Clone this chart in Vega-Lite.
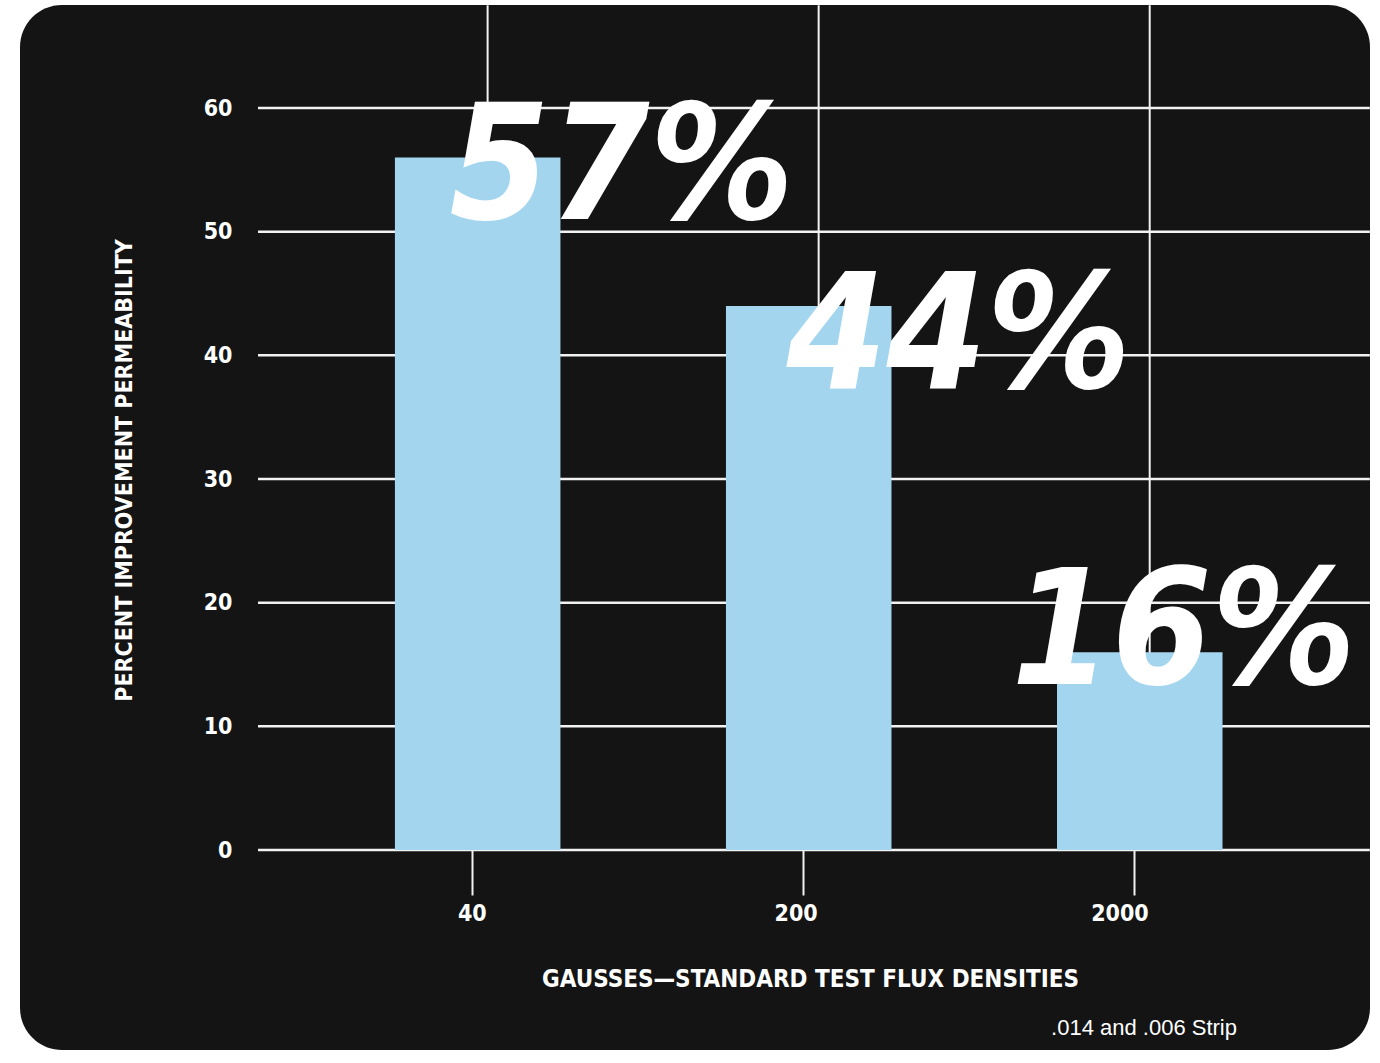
{
  "$schema": "https://vega.github.io/schema/vega-lite/v6.json",
  "width": 1350,
  "height": 1045,
  "autosize": {"type": "none"},
  "padding": {"left": 20, "top": 5, "right": 10, "bottom": 13},
  "background": "white",
  "config": {
    "view": {"fill": "#141414", "stroke": null, "cornerRadius": 42},
    "font": "DejaVu Sans Condensed, DejaVu Sans, sans-serif"
  },
  "title": {
    "text": ".014 and .006 Strip",
    "orient": "bottom",
    "anchor": "end",
    "frame": "group",
    "offset": -32,
    "dx": -133,
    "font": "Liberation Sans, Arial, sans-serif",
    "fontSize": 22,
    "fontWeight": "normal",
    "color": "white"
  },
  "datasets": {
    "bars": [
      {"gauss": "40", "improvement": 56, "label": "57%"},
      {"gauss": "200", "improvement": 44, "label": "44%"},
      {"gauss": "2000", "improvement": 16, "label": "16%"}
    ],
    "ticks": [
      {"pct": 0}, {"pct": 10}, {"pct": 20}, {"pct": 30}, {"pct": 40}, {"pct": 50}, {"pct": 60}
    ]
  },
  "layer": [
    {
      "data": {"name": "ticks"},
      "mark": {"type": "rule", "color": "#f2f2f2", "strokeWidth": 2.5},
      "encoding": {
        "y": {"field": "pct", "type": "quantitative"},
        "x": {"datum": "40", "bandPosition": -0.827},
        "x2": {"datum": "2000", "bandPosition": 1.89}
      }
    },
    {
      "data": {"name": "bars"},
      "mark": {"type": "rule", "color": "#f2f2f2", "strokeWidth": 2},
      "encoding": {
        "x": {"field": "gauss", "type": "nominal", "bandPosition": 0.56},
        "y": {"datum": 0},
        "y2": {"datum": 68.3}
      }
    },
    {
      "data": {"name": "bars"},
      "mark": {"type": "bar", "color": "#a3d6ee"},
      "encoding": {
        "x": {
          "field": "gauss",
          "type": "nominal",
          "sort": ["40", "200", "2000"],
          "scale": {"domain": ["40", "200", "2000"], "paddingInner": 0.5, "paddingOuter": 0.789, "align": 0.7177},
          "axis": {
            "orient": "bottom",
            "offset": -200,
            "bandPosition": 0.47,
            "domain": false,
            "grid": false,
            "ticks": true,
            "tickSize": 45,
            "tickWidth": 2,
            "tickColor": "#f2f2f2",
            "labelAngle": 0,
            "labelPadding": 18,
            "labelOffset": 9,
            "labelFontSize": 23,
            "labelFontWeight": "bold",
            "labelColor": "white",
            "title": "GAUSSES—STANDARD TEST FLUX DENSITIES",
            "titleX": 790,
            "titleY": 117,
            "titleAlign": "center",
            "titleBaseline": "top",
            "titleFontSize": 24,
            "titleFontWeight": "bold",
            "titleColor": "white"
          }
        },
        "y": {
          "field": "improvement",
          "type": "quantitative",
          "scale": {"domain": [-16.17, 68.33], "nice": false, "zero": false},
          "axis": {
            "orient": "left",
            "offset": -220,
            "values": [0, 10, 20, 30, 40, 50, 60],
            "domain": false,
            "grid": false,
            "ticks": false,
            "labelPadding": 8,
            "labelFontSize": 23,
            "labelFontWeight": "bold",
            "labelColor": "white",
            "title": "PERCENT IMPROVEMENT PERMEABILITY",
            "titleX": -116,
            "titleY": 465,
            "titleAngle": -90,
            "titleAlign": "center",
            "titleBaseline": "middle",
            "titleFontSize": 23,
            "titleFontWeight": "bold",
            "titleColor": "white"
          }
        },
        "y2": {"datum": 0}
      }
    },
    {
      "data": {"name": "bars"},
      "transform": [{"filter": "datum.gauss === '40'"}],
      "mark": {"type": "text", "color": "white", "fontSize": 160, "fontWeight": "bold", "fontStyle": "italic", "align": "center", "baseline": "alphabetic", "dx": 144, "dy": 62},
      "encoding": {
        "x": {"field": "gauss", "type": "nominal"},
        "y": {"field": "improvement", "type": "quantitative"},
        "text": {"field": "label"}
      }
    },
    {
      "data": {"name": "bars"},
      "transform": [{"filter": "datum.gauss === '200'"}],
      "mark": {"type": "text", "color": "white", "fontSize": 160, "fontWeight": "bold", "fontStyle": "italic", "align": "center", "baseline": "alphabetic", "dx": 150, "dy": 82},
      "encoding": {
        "x": {"field": "gauss", "type": "nominal"},
        "y": {"field": "improvement", "type": "quantitative"},
        "text": {"field": "label"}
      }
    },
    {
      "data": {"name": "bars"},
      "transform": [{"filter": "datum.gauss === '2000'"}],
      "mark": {"type": "text", "color": "white", "fontSize": 160, "fontWeight": "bold", "fontStyle": "italic", "align": "center", "baseline": "alphabetic", "dx": 44, "dy": 32},
      "encoding": {
        "x": {"field": "gauss", "type": "nominal"},
        "y": {"field": "improvement", "type": "quantitative"},
        "text": {"field": "label"}
      }
    }
  ]
}
